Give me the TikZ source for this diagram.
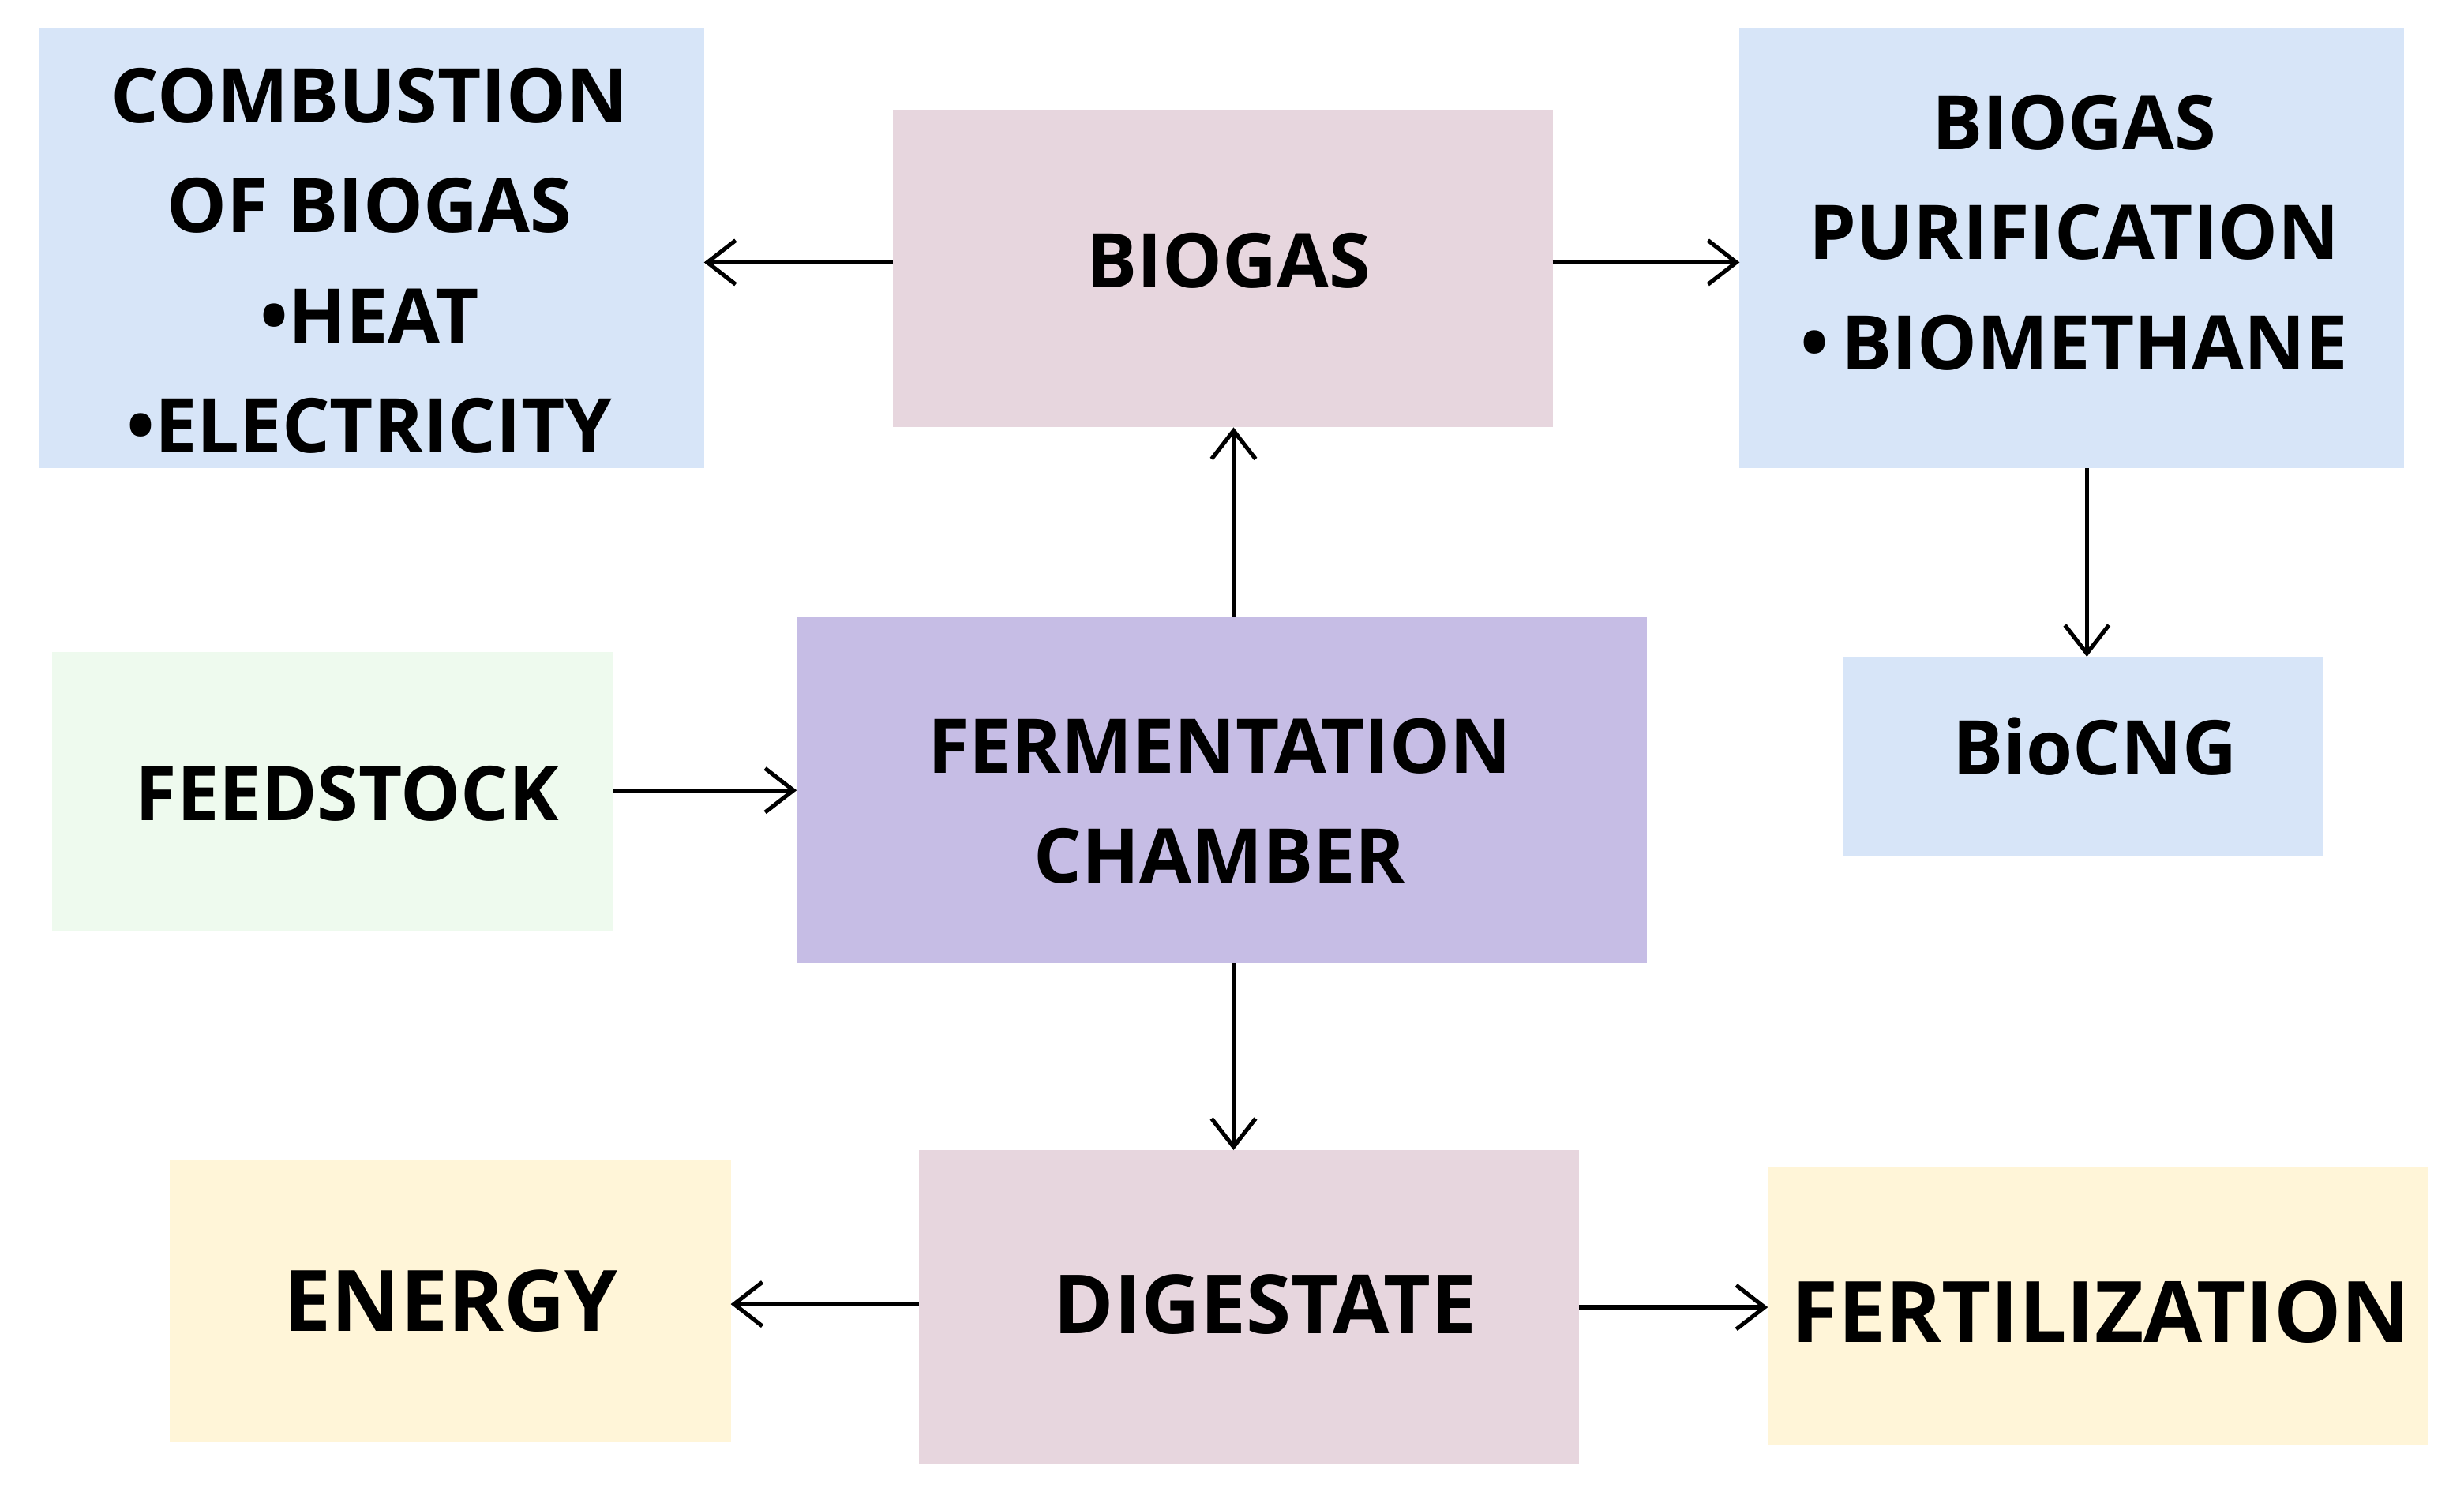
\documentclass[tikz,border=0pt]{standalone}
\usepackage{fontspec}
\setmainfont{Open Sans}
\usetikzlibrary{arrows.meta}
\definecolor{cblue}{HTML}{D7E5F8}
\definecolor{cpink}{HTML}{E7D6DE}
\definecolor{cgreen}{HTML}{EEFAEE}
\definecolor{cpurple}{HTML}{C6BDE5}
\definecolor{cyellow}{HTML}{FFF5D8}
\tikzset{
 box/.style={inner sep=0pt,align=center,font=\bfseries\fontsize{24}{35}\selectfont},
 arr/.style={-{Straight Barb[length=9pt,width=14pt,line width=1.3pt]},line width=1.3pt}
}
\begin{document}
\begin{tikzpicture}[x=0.5pt,y=-0.5pt]
\useasboundingbox (0,0) rectangle (1568,954);
\newcommand{\bx}[6]{\fill[#6] (#2,#3) rectangle (#4,#5); \coordinate (#1) at ({(#2+#4)/2},{(#3+#5)/2});}
\bx{comb}{25}{18}{448}{298}{cblue}
\bx{bio}{568}{70}{988}{272}{cpink}
\bx{pur}{1107}{18}{1530}{298}{cblue}
\bx{feed}{33}{415}{390}{593}{cgreen}
\bx{ferm}{507}{393}{1048}{613}{cpurple}
\bx{cng}{1173}{418}{1478}{545}{cblue}
\bx{ene}{108}{738}{465}{918}{cyellow}
\bx{dig}{585}{732}{1005}{932}{cpink}
\bx{fer}{1125}{743}{1545}{920}{cyellow}
\node[box] (tcomb) at (235,166) {COMBUSTION\\OF BIOGAS\\\textbullet HEAT\\\textbullet ELECTRICITY};
\node[box] (tbio) at (782,166) {BIOGAS};
\node[box] (tpur) at (1320,148) {BIOGAS\\PURIFICATION\\\textbullet\,BIOMETHANE};
\node[box] (tfeed) at (221,505) {FEEDSTOCK};
\node[box] (tferm) at (776,510) {FERMENTATION\\CHAMBER};
\node[box] (tcng) at (1333,475) {BioCNG};
\node[box,font=\bfseries\fontsize{27}{35}\selectfont] (tene) at (287,828) {ENERGY};
\node[box,font=\bfseries\fontsize{26}{35}\selectfont] (tdig) at (805,830) {DIGESTATE};
\node[box,font=\bfseries\fontsize{27}{35}\selectfont] (tfer) at (1337,835) {FERTILIZATION};
\coordinate (a1) at (568,167); \coordinate (a2) at (448,167);
\coordinate (b1) at (988,167); \coordinate (b2) at (1107,167);
\coordinate (c1) at (785,393); \coordinate (c2) at (785,272);
\coordinate (d1) at (1328,298); \coordinate (d2) at (1328,418);
\coordinate (e1) at (390,503); \coordinate (e2) at (507,503);
\coordinate (f1) at (785,613); \coordinate (f2) at (785,732);
\coordinate (g1) at (585,830); \coordinate (g2) at (465,830);
\coordinate (h1) at (1005,832); \coordinate (h2) at (1125,832);
\foreach \s/\t in {a1/a2,b1/b2,c1/c2,d1/d2,e1/e2,f1/f2,g1/g2,h1/h2} \draw[arr] (\s) -- (\t);
\end{tikzpicture}
\end{document}
